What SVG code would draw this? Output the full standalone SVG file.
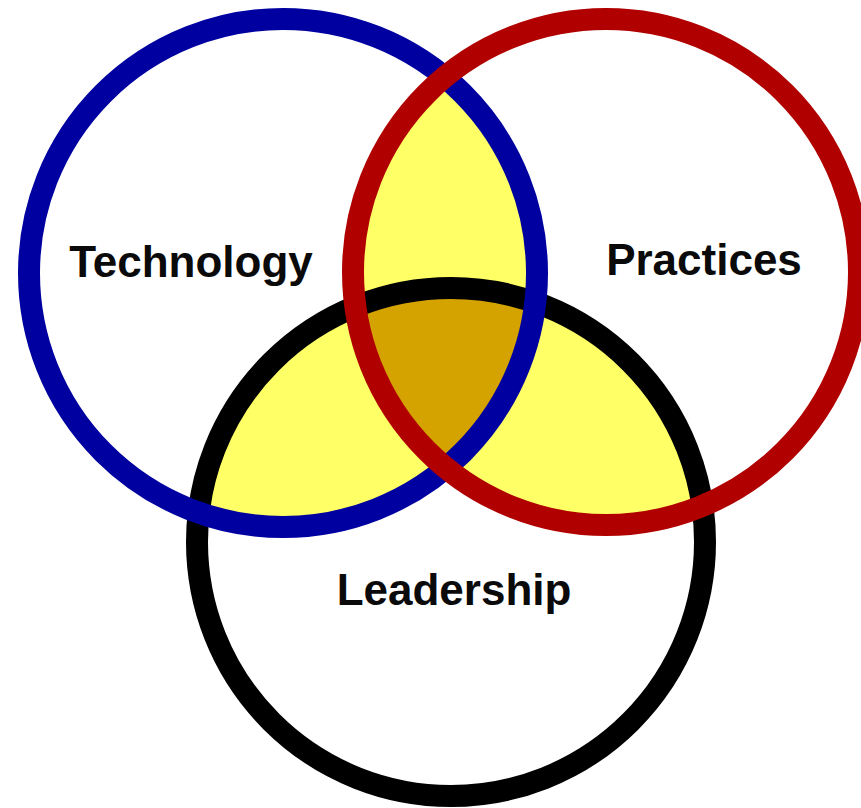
<svg xmlns="http://www.w3.org/2000/svg" width="861" height="808" viewBox="0 0 861 808">
  <style>
    .ring { fill: none; stroke-width: 22; }
    .lbl { font-family: "Liberation Sans", Arial, sans-serif; font-weight: bold; font-size: 44px; fill: #0a0a0a; text-anchor: middle; }
  </style>
  <defs>
    <clipPath id="cBlue"><circle cx="283" cy="273" r="254"/></clipPath>
    <clipPath id="cRed"><circle cx="606" cy="272" r="253"/></clipPath>
    <clipPath id="cBlack"><circle cx="451" cy="542" r="254"/></clipPath>
  </defs>
  <rect width="861" height="808" fill="#ffffff"/>
  <g id="overlaps">
    <g clip-path="url(#cBlue)"><circle cx="606" cy="272" r="253" fill="#ffff66"/></g>
    <g clip-path="url(#cBlue)"><circle cx="451" cy="542" r="254" fill="#ffff66"/></g>
    <g clip-path="url(#cRed)"><circle cx="451" cy="542" r="254" fill="#ffff66"/></g>
    <g clip-path="url(#cBlue)"><g clip-path="url(#cRed)"><circle cx="451" cy="542" r="254" fill="#d4a300"/></g></g>
  </g>
  <g id="leadership">
    <circle class="ring" cx="451" cy="542" r="254" stroke="#000000"/>
    <text class="lbl" x="454" y="605">Leadership</text>
  </g>
  <g id="technology">
    <circle class="ring" cx="283" cy="273" r="254" stroke="#0000a0"/>
    <text class="lbl" x="191" y="277">Technology</text>
  </g>
  <g id="practices">
    <circle class="ring" cx="606" cy="272" r="253" stroke="#b00000"/>
    <text class="lbl" x="704" y="275">Practices</text>
  </g>
  <g id="connectors"/>
</svg>
